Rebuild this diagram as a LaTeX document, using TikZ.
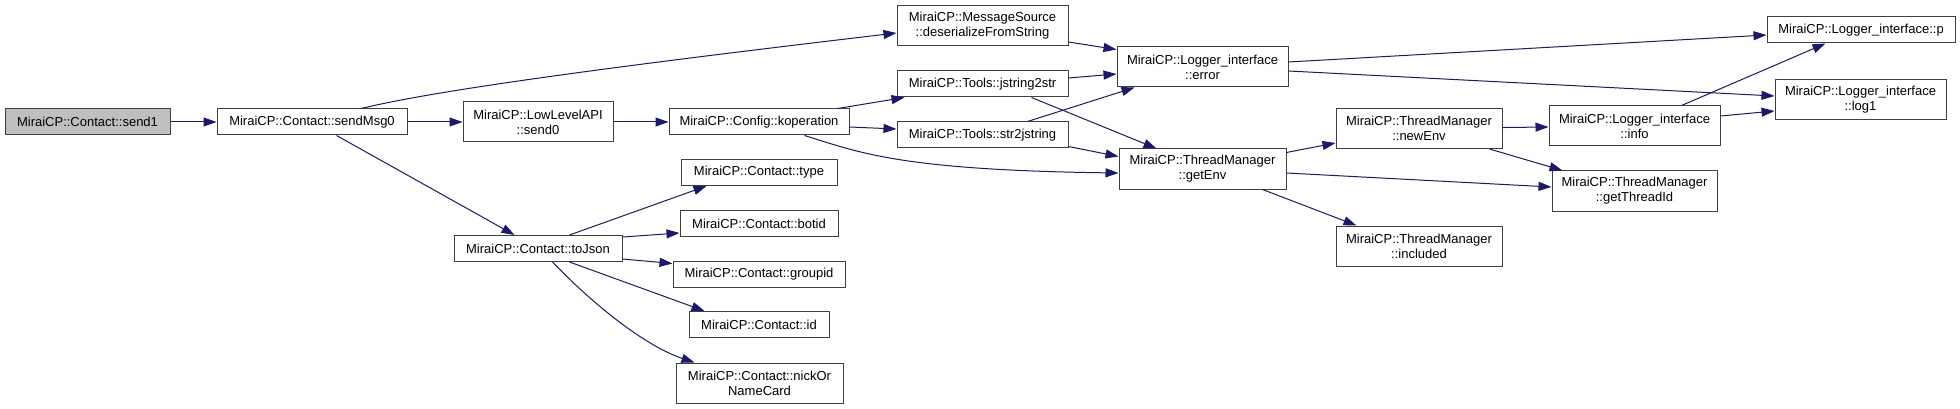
\documentclass[tikz,border=0pt]{standalone}
\usepackage{fontspec}
\setmainfont{Liberation Sans}
\usepackage{xcolor}
\usetikzlibrary{arrows.meta}
\definecolor{edgeblue}{RGB}{25,25,112}
\definecolor{boxgray}{RGB}{64,64,64}
\definecolor{rootgray}{RGB}{191,191,191}

\begin{document}
\begin{tikzpicture}[
    x=1pt, y=-1pt,
    fn/.style={draw=boxgray, fill=white, line width=1pt, inner sep=0pt, minimum height=26pt, align=center, font=\fontsize{13}{15}\selectfont},
    fntwo/.style={fn, minimum height=40pt},
    root/.style={fn, fill=rootgray},
    call/.style={-{Triangle[length=13pt, width=9pt]}, line width=1pt, edgeblue}
]
\useasboundingbox[fill=white] (0,0) rectangle (1960,409);

\node[root, minimum width=165pt] (send1) at (87.5,122) {MiraiCP::Contact::send1};
\node[fn, minimum width=190pt] (sendMsg) at (312,122) {MiraiCP::Contact::sendMsg0};
\node[fntwo, minimum width=150pt] (send0) at (538,122) {MiraiCP::LowLevelAPI\\::send0};
\node[fn, minimum width=168pt] (toJson) at (538,248.5) {MiraiCP::Contact::toJson};
\node[fn, minimum width=180pt] (koper) at (759,122) {MiraiCP::Config::koperation};
\node[fn, minimum width=156pt] (type) at (759,172.5) {MiraiCP::Contact::type};
\node[fn, minimum width=158pt] (botid) at (759,223.5) {MiraiCP::Contact::botid};
\node[fn, minimum width=172pt] (groupid) at (759,274) {MiraiCP::Contact::groupid};
\node[fn, minimum width=140pt] (cid) at (759,324.5) {MiraiCP::Contact::id};
\node[fntwo, minimum width=167pt] (nick) at (759.5,383) {MiraiCP::Contact::nickOr\\NameCard};
\node[fntwo, minimum width=171pt] (deser) at (982.5,25.5) {MiraiCP::MessageSource\\::deserializeFromString};
\node[fn, minimum width=171pt] (jtos) at (982.5,84) {MiraiCP::Tools::jstring2str};
\node[fn, minimum width=171pt] (stoj) at (982.5,135) {MiraiCP::Tools::str2jstring};
\node[fntwo, minimum width=171pt] (error) at (1202.5,67) {MiraiCP::Logger\_interface\\::error};
\node[fntwo, minimum width=167pt] (getEnv) at (1202.5,169) {MiraiCP::ThreadManager\\::getEnv};
\node[fntwo, minimum width=166pt] (newEnv) at (1419,128.5) {MiraiCP::ThreadManager\\::newEnv};
\node[fntwo, minimum width=166pt] (included) at (1419,246) {MiraiCP::ThreadManager\\::included};
\node[fntwo, minimum width=171pt] (info) at (1634.5,126) {MiraiCP::Logger\_interface\\::info};
\node[fntwo, minimum width=165pt] (threadId) at (1634.5,191) {MiraiCP::ThreadManager\\::getThreadId};
\node[fn, minimum width=188pt] (lp) at (1861,30) {MiraiCP::Logger\_interface::p};
\node[fntwo, minimum width=171pt] (log1) at (1860.5,100) {MiraiCP::Logger\_interface\\::log1};

\draw[call] (send1) -- (sendMsg);
\draw[call] ([xshift=145pt]sendMsg.north west) .. controls +(68,-17) and +(-297,35) .. ([yshift=-7.5pt]deser.west);
\draw[call] (sendMsg) -- (send0);
\draw[call] ([xshift=120pt]sendMsg.south west) -- ([xshift=61pt]toJson.north west);
\draw[call] (send0) -- (koper);
\draw[call] ([xshift=-12pt]koper.north east) -- ([xshift=8pt]jtos.south west);
\draw[call] ([yshift=-5pt]koper.east) -- ([yshift=6pt]stoj.west);
\draw[call] ([xshift=136pt]koper.south west) .. controls +(55,17) and +(-219,-3) .. ([yshift=-4pt]getEnv.west);
\draw[call] ([yshift=4pt]deser.south east) -- ([yshift=-3pt]error.north west);
\draw[call] ([yshift=6pt]jtos.east) -- ([yshift=-7pt]error.west);
\draw[call] ([xshift=131pt]stoj.north west) -- ([xshift=18pt]error.south west);
\draw[call] ([xshift=135pt]jtos.south west) -- ([xshift=38pt]getEnv.north west);
\draw[call] ([yshift=2pt]stoj.south east) -- ([yshift=-8pt]getEnv.north west);
\draw[call] ([yshift=5pt]error.east) -- ([yshift=-5pt]lp.west);
\draw[call] ([yshift=-4pt]error.east) -- ([yshift=4pt]log1.west);
\draw[call] ([yshift=-4pt]getEnv.north east) -- ([yshift=6pt]newEnv.south west);
\draw[call] ([yshift=-4pt]getEnv.east) -- ([yshift=4pt]threadId.west);
\draw[call] ([xshift=-24pt]getEnv.south east) -- ([xshift=21pt]included.north west);
\draw[call] (newEnv) -- (info);
\draw[call] ([xshift=-13pt]newEnv.south east) -- ([xshift=11pt]threadId.north west);
\draw[call] ([xshift=-39pt]info.north east) -- ([xshift=59pt]lp.south west);
\draw[call] ([yshift=10pt]info.east) -- ([yshift=-11pt]log1.west);
\draw[call] ([xshift=116pt]toJson.north west) -- ([xshift=26pt]type.south west);
\draw[call] ([yshift=-2pt]toJson.north east) -- ([yshift=-9.5pt]botid.west);
\draw[call] ([yshift=3pt]toJson.south east) -- ([yshift=-3pt]groupid.north west);
\draw[call] ([xshift=116pt]toJson.south west) -- ([xshift=16pt]cid.north west);
\draw[call] ([xshift=99pt]toJson.south west) .. controls +(47,49) and +(-45,-15) .. ([xshift=19pt]nick.north west);
\end{tikzpicture}
\end{document}
